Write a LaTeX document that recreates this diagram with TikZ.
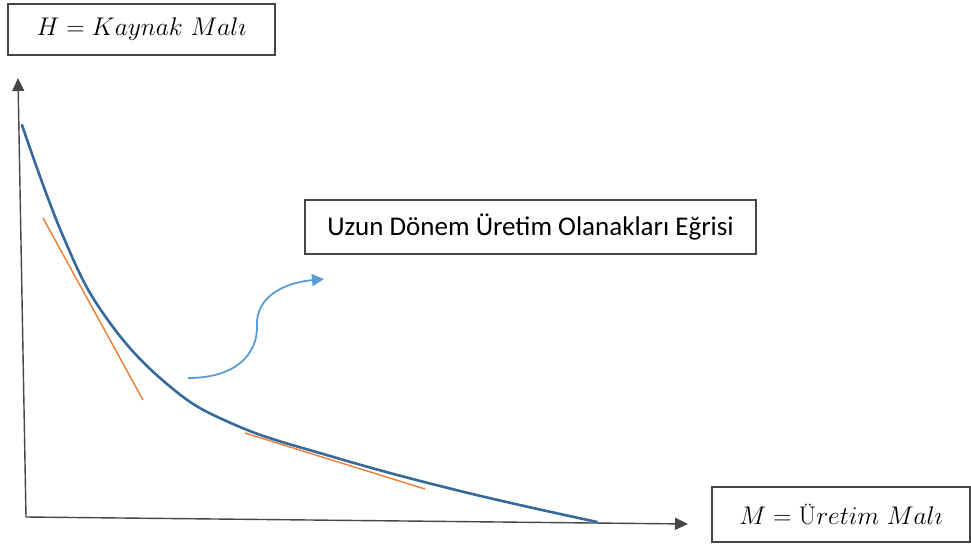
\RequirePackage{fix-cm}
\documentclass[tikz,border=0pt]{standalone}
\usepackage{fontspec}
\newfontfamily\calibri{Carlito}
\usetikzlibrary{arrows.meta}
\definecolor{curveblue}{RGB}{55,105,155}
\definecolor{tanorange}{RGB}{237,125,49}
\definecolor{arrowblue}{RGB}{91,155,213}
\definecolor{axisgray}{RGB}{70,70,70}
\tikzset{
  labelbox/.style={draw=axisgray, line width=1.3pt, inner sep=0pt, fill=white},
  axis/.style={draw=axisgray, line width=1.4pt, -{Triangle[length=13pt,width=12pt]}},
  lrac/.style={draw=curveblue, line width=2.6pt, line cap=round},
  tangent/.style={draw=tanorange, line width=1.4pt},
  pointer/.style={draw=arrowblue, line width=1.8pt, -{Triangle[length=12pt,width=12pt]}},
  mathlabel/.style={font=\fontsize{25.5}{30}\selectfont},
}
\begin{document}
\begin{tikzpicture}[x=1pt, y=-1pt]
\useasboundingbox (0,0) rectangle (971,545);

% label boxes
\node[labelbox, mathlabel, minimum width=267pt, minimum height=51pt] (hbox) at (141.5,29.5)
  {$H = Kaynak\ Mal\imath$};
\node[labelbox, font=\calibri\fontsize{27}{31}\selectfont, minimum width=451pt, minimum height=54pt] (lbox) at (530.5,227)
  {Uzun Dönem Üretim Olanakları Eğrisi};
\node[labelbox, mathlabel, minimum width=258pt, minimum height=55pt] (mbox) at (841,514.5)
  {$M = \mbox{Ü}retim\ Mal\imath$};

% axes
\coordinate (origin) at (26,517);
\coordinate (ytip) at (18,78);
\coordinate (xtip) at (688,524);
\draw[axis] (origin) -- (ytip);
\draw[axis] (origin) -- (xtip);

% tangents
\coordinate (t1a) at (43,218);
\coordinate (t1b) at (143,400);
\coordinate (t2a) at (245,433);
\coordinate (t2b) at (425,489);
\draw[tangent] (t1a) -- (t1b);
\draw[tangent] (t2a) -- (t2b);

% long-run production possibilities curve
\draw[lrac] plot[smooth, tension=0.7] coordinates {
  (22,125) (63,236) (105,316) (167,384) (233,424) (330,456) (460,491) (597,522)};

% pointer from curve to its label
\coordinate (ps) at (188,378);
\coordinate (pe) at (324,279);
\draw[pointer] (ps) .. controls (235,378) and (258,355) .. (257,325)
  .. controls (256,298) and (282,283) .. (pe);
\end{tikzpicture}
\end{document}
